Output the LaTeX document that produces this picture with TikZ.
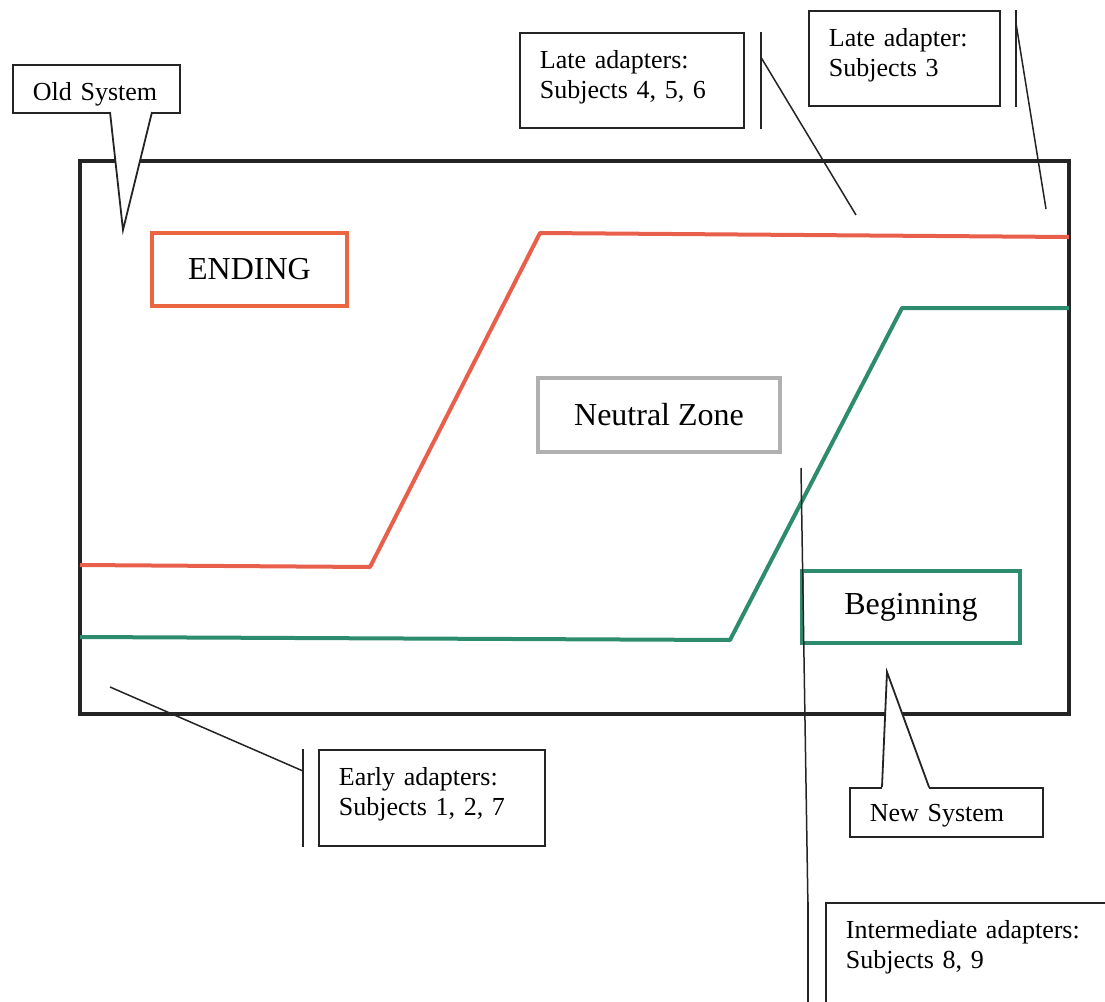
\documentclass[tikz,border=0pt]{standalone}
\usepackage{fontspec}
\setmainfont{Liberation Serif}
\usepackage{tikz}
\usetikzlibrary{calc}
\usetikzlibrary{positioning}

\definecolor{endred}{RGB}{232,96,76}
\definecolor{newgreen}{RGB}{46,140,110}
\definecolor{zonegray}{RGB}{176,176,176}
\definecolor{ink}{RGB}{36,36,36}

\begin{document}
\begin{tikzpicture}[x=0.5pt,y=-0.5pt,
        frame/.style={draw=ink, line width=2.4pt},
        phase/.style={line width=2pt, line join=round},
        zone/.style={draw, line width=1.8pt, inner sep=0pt, font=\fontsize{16}{19}\selectfont},
        callout/.style={draw=ink, line width=0.9pt, fill=white, anchor=north west, align=left,
            inner xsep=10pt, inner ysep=0pt, text height=18pt, font=\fontsize{13}{15}\selectfont},
        leader/.style={draw=ink, line width=0.75pt}]
    \useasboundingbox (0,0) rectangle (1105,1002);
    \clip (0,0) rectangle (1105,1002);
    \fill[white] (0,0) rectangle (1105,1002);

    \draw[frame] (80,161) rectangle (1069,714);
    \draw[phase, endred] (80,565) -- (370,567) -- (540,233) -- (1069,237);
    \draw[phase, newgreen] (80,637) -- (730,640) -- (902,308) -- (1069,308);

    \node[zone, draw=endred!85!orange, minimum width=97.5pt, minimum height=36.5pt] (ending) at (249.5,269.5) {ENDING};
    \node[zone, draw=zonegray, minimum width=121pt, minimum height=37pt] (neutral) at (659,415) {Neutral Zone};
    \node[zone, draw=newgreen, minimum width=109pt, minimum height=36pt] (beginning) at (911,607) {Beginning};

    % callouts with a pointer
    \node[callout, text width=63.5pt, text depth=6pt] (oldsys) at (12,64) {Old System};
    \coordinate (oldsys-a) at (110,112);
    \coordinate (oldsys-b) at (152,112);
    \coordinate (oldsys-tip) at (123,230);
    \fill[white] ([yshift=1pt]oldsys-a) -- ([yshift=1pt]oldsys-b) -- (oldsys-tip) -- cycle;
    \draw[leader, line width=0.9pt, line join=miter] (oldsys-a) -- (oldsys-tip) -- (oldsys-b);

    \node[callout, text width=76.5pt, text height=17pt, text depth=7.5pt] (newsys) at (849,787) {New System};
    \coordinate (newsys-a) at (882,787);
    \coordinate (newsys-b) at (929,787);
    \coordinate (newsys-tip) at (887,672);
    \fill[white] ([yshift=-1pt]newsys-a) -- ([yshift=-1pt]newsys-b) -- (newsys-tip) -- cycle;
    \draw[leader, line width=0.9pt, line join=miter] (newsys-a) -- (newsys-tip) -- (newsys-b);

    % callouts with a bar and a line
    \node[callout, text width=92pt, text depth=29.5pt] (lateA) at (519,32) {Late adapters:\\Subjects 4, 5, 6};
    \coordinate (lateA-tip) at (856,215);
    \draw[leader] ([xshift=8pt]lateA.north east) -- ([xshift=8pt]lateA.south east);
    \draw[leader] ([xshift=8pt,yshift=-12.5pt]lateA.north east) -- (lateA-tip);

    \node[callout, text width=75.5pt, text depth=29.5pt] (lateB) at (808,10) {Late adapter:\\Subjects 3};
    \coordinate (lateB-tip) at (1046,209);
    \draw[leader] ([xshift=7.5pt]lateB.north east) -- ([xshift=7.5pt]lateB.south east);
    \draw[leader] ([xshift=7.5pt,yshift=-6pt]lateB.north east) -- (lateB-tip);

    \node[callout, text width=93pt, text depth=30pt] (early) at (318,749) {Early adapters:\\Subjects 1, 2, 7};
    \coordinate (early-tip) at (110,687);
    \draw[leader] ([xshift=-7.5pt]early.north west) -- ([xshift=-7.5pt]early.south west);
    \draw[leader] ([xshift=-7.5pt,yshift=-11pt]early.north west) -- (early-tip);

    \node[callout, text width=140pt, text depth=40pt] (inter) at (825,902) {Intermediate adapters:\\Subjects 8, 9};
    \coordinate (inter-tip) at (801,468);
    \draw[leader] ([xshift=-8.5pt]inter.north west) -- ([xshift=-8.5pt]inter.south west);
    \draw[leader] ([xshift=-8.5pt,yshift=-4pt]inter.north west) -- (inter-tip);
\end{tikzpicture}
\end{document}
